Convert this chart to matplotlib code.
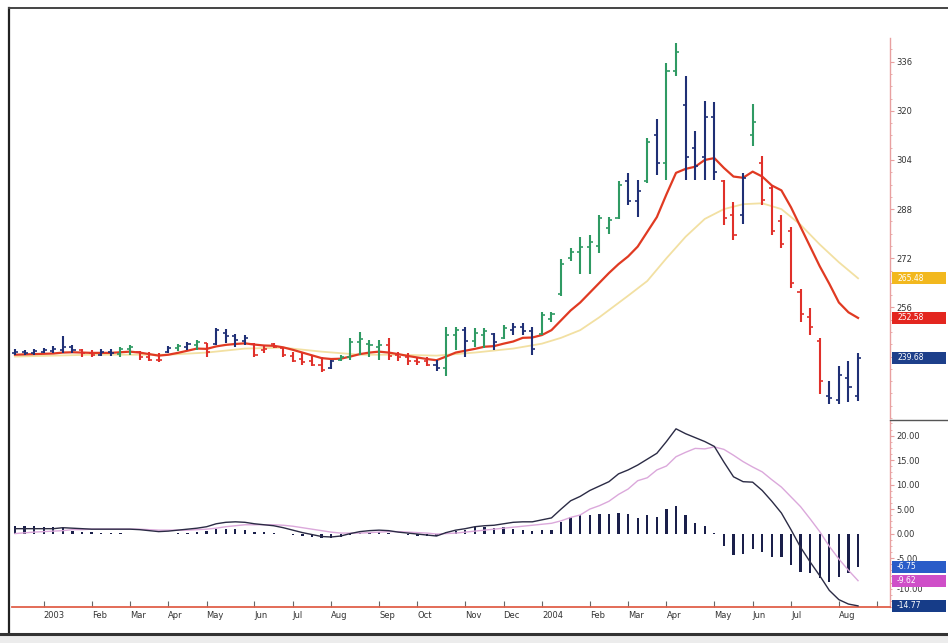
#!/usr/bin/env python3
"""
Weekly OHLC bar chart (Dec 2002 - Aug 2004) with two moving averages
and a MACD panel underneath, styled after a scanned trading-software page.
"""

import numpy as np
import pandas as pd
import matplotlib
matplotlib.use('Agg')
import matplotlib.pyplot as plt
import matplotlib.transforms as mtransforms
from matplotlib import rcParams
from matplotlib.patches import Rectangle
from matplotlib.lines import Line2D

FIG_W, FIG_H, DPI = 9.48, 6.43, 100

rcParams.update({
    'font.family': 'DejaVu Sans',
    'font.size': 6,
    'axes.linewidth': 0.9,
})

# ── Data ──────────────────────────────────────────────────────────────
first_week = '2002-12-13'   # weekly bars, Fridays

bar_open = [
    241.0, 241.4, 241.0, 241.6, 241.8, 242.2, 243.0, 242.2, 241.0, 240.6,
    241.6, 240.8, 242.6, 241.6, 239.7, 239.0, 241.6, 242.9, 243.2, 243.8,
    244.5, 244.2, 247.7, 246.7, 245.1, 244.2, 242.2, 244.2, 242.9, 240.3,
    239.3, 238.4, 237.4, 236.2, 239.0, 240.0, 244.8, 244.0, 243.2, 243.8,
    240.6, 239.7, 238.4, 238.7, 237.4, 236.2, 247.0, 248.6, 245.1, 247.0,
    247.4, 246.1, 248.6, 249.6, 248.3, 247.4, 252.2, 260.5, 272.0, 274.0,
    275.8, 276.0, 282.0, 285.0, 297.0, 290.5, 297.0, 312.0, 303.0, 333.0,
    322.0, 308.0, 305.0, 318.0, 297.0, 286.0, 286.0, 312.0, 303.0, 295.0,
    284.0, 281.0, 261.0, 253.0, 245.0, 227.0, 226.0, 233.0, 227.0,
]
bar_high = [
    242.6, 242.2, 242.6, 242.9, 243.5, 246.7, 243.8, 242.6, 242.2, 242.6,
    242.6, 243.2, 243.8, 241.9, 241.6, 241.3, 243.5, 244.2, 244.8, 245.4,
    244.5, 249.3, 249.0, 247.4, 247.0, 244.5, 243.8, 244.5, 242.9, 241.6,
    241.3, 240.6, 239.7, 239.0, 240.6, 246.1, 248.0, 245.4, 245.4, 246.1,
    241.6, 241.3, 240.0, 239.7, 239.0, 249.6, 249.6, 249.6, 249.3, 249.3,
    247.7, 250.2, 250.9, 250.9, 249.6, 254.4, 254.4, 271.7, 275.2, 279.0,
    279.7, 286.1, 285.4, 297.3, 299.8, 297.6, 311.0, 317.4, 335.7, 342.1,
    331.2, 313.3, 323.2, 322.9, 297.6, 290.2, 299.8, 322.2, 305.3, 296.0,
    286.1, 282.2, 262.1, 255.7, 246.1, 232.0, 236.8, 238.4, 241.3,
]
bar_low = [
    240.6, 240.6, 240.6, 241.0, 241.0, 241.3, 241.3, 240.0, 240.0, 240.3,
    240.3, 240.0, 240.6, 239.0, 238.7, 238.1, 241.3, 241.9, 242.2, 242.2,
    240.0, 243.8, 244.5, 243.2, 243.8, 240.0, 241.3, 242.9, 240.0, 238.1,
    237.4, 236.8, 234.9, 235.8, 238.4, 239.0, 240.6, 240.0, 239.0, 239.0,
    238.4, 237.4, 237.4, 236.8, 235.2, 233.6, 242.2, 240.0, 243.2, 242.9,
    242.2, 245.8, 247.0, 247.0, 240.6, 247.0, 251.2, 259.8, 271.0, 266.9,
    266.9, 273.6, 280.0, 284.8, 289.3, 285.4, 296.6, 299.2, 297.6, 331.2,
    297.6, 297.6, 297.6, 297.6, 282.9, 278.1, 283.2, 308.5, 289.3, 279.7,
    275.2, 262.4, 251.2, 247.0, 227.8, 224.6, 224.6, 225.3, 225.6,
]
bar_close = [
    241.6, 241.0, 241.8, 242.2, 242.6, 243.0, 242.2, 241.0, 240.6, 241.6,
    241.0, 242.6, 243.0, 239.7, 239.0, 238.8, 242.9, 243.5, 244.0, 244.8,
    241.6, 248.6, 246.7, 245.4, 246.1, 240.6, 242.6, 243.2, 240.6, 238.7,
    238.1, 237.4, 235.5, 238.4, 240.0, 244.8, 245.8, 243.8, 243.8, 240.3,
    239.7, 238.4, 238.1, 237.4, 236.2, 247.0, 248.6, 245.1, 247.7, 248.3,
    244.8, 249.3, 249.6, 248.3, 242.6, 253.4, 253.8, 270.0, 274.2, 275.8,
    277.4, 285.0, 284.5, 296.0, 290.5, 294.0, 310.0, 303.0, 333.0, 339.0,
    305.0, 302.0, 318.0, 300.0, 285.0, 279.5, 298.0, 316.5, 291.0, 281.0,
    276.5, 264.0, 254.0, 249.5, 232.0, 226.5, 234.0, 230.0, 239.68,
]
# impulse state of each bar: u = up (green), d = down (red), n = neutral (blue)
impulse = list(
    'nnnnnnnddnnuudddnunud'
    'nnnnddddddddnuuuuuddddd'
    'nuunuununnnuuuuuuuuunnunuu'
    'nnnnddnudddddddnnnn'
)

# fast moving average (red), one value per bar
ma_fast = [
    240.6, 240.7, 240.8, 240.9, 241.0, 241.3, 241.4, 241.3, 241.2, 241.2,
    241.2, 241.4, 241.6, 241.3, 240.8, 240.3, 240.6, 241.2, 241.9, 242.6,
    242.5, 243.3, 243.8, 244.1, 244.3, 243.9, 243.6, 243.5, 243.0, 242.2,
    241.3, 240.4, 239.5, 239.2, 239.3, 240.0, 240.8, 241.3, 241.6, 241.3,
    240.8, 240.2, 239.7, 239.2, 238.8, 240.0, 241.3, 241.9, 242.5, 243.2,
    243.4, 244.2, 244.9, 246.1, 246.2, 247.0, 248.6, 251.8, 255.0, 257.6,
    260.8, 264.0, 267.2, 270.1, 272.6, 275.8, 280.6, 285.4, 292.8, 299.8,
    301.1, 301.8, 304.0, 304.6, 301.4, 298.6, 298.2, 300.2, 298.6, 295.7,
    294.1, 288.6, 282.2, 275.8, 269.4, 263.7, 257.6, 254.4, 252.58,
]
# slow moving average (yellow), read at selected bars
ma_slow_idx = [0, 4, 8, 12, 16, 20, 24, 28, 32, 36, 40, 44, 48, 52, 55,
               57, 59, 61, 64, 66, 68, 70, 72, 74, 76, 78, 80, 82, 84, 86, 88]
ma_slow = [240.0, 240.3, 240.6, 240.6, 240.6, 241.3, 242.6, 242.9, 241.6,
           240.6, 240.6, 240.3, 241.3, 242.6, 244.2, 246.1, 248.6, 252.8,
           259.8, 264.6, 272.0, 279.0, 284.8, 288.0, 289.6, 289.9, 288.0,
           282.9, 276.5, 270.7, 265.48]

macd_line = [
    1.0, 1.0, 1.0, 1.0, 1.0, 1.2, 1.1, 1.0, 0.9, 0.9,
    0.9, 0.9, 0.9, 0.8, 0.6, 0.4, 0.5, 0.7, 0.9, 1.1,
    1.4, 2.0, 2.3, 2.4, 2.3, 2.0, 1.8, 1.6, 1.2, 0.7,
    0.2, -0.2, -0.6, -0.7, -0.5, 0.0, 0.4, 0.6, 0.7, 0.6,
    0.3, 0.1, -0.1, -0.3, -0.5, 0.2, 0.7, 1.0, 1.4, 1.6,
    1.7, 2.0, 2.3, 2.4, 2.4, 2.8, 3.2, 5.0, 6.7, 7.6,
    8.8, 9.7, 10.6, 12.2, 13.0, 14.0, 15.2, 16.4, 18.8, 21.4,
    20.4, 19.6, 18.8, 17.8, 14.6, 11.6, 10.6, 10.5, 8.8, 6.6,
    4.2, 0.8, -2.8, -5.8, -8.6, -11.6, -13.5, -14.4, -14.77,
]
macd_signal = [
    0.0, 0.15, 0.3, 0.4, 0.5, 0.6, 0.8, 0.8, 0.9, 0.9,
    0.9, 0.9, 0.9, 0.9, 0.8, 0.7, 0.7, 0.7, 0.7, 0.8,
    0.9, 1.1, 1.4, 1.6, 1.8, 1.8, 1.8, 1.8, 1.7, 1.5,
    1.2, 0.9, 0.6, 0.3, 0.1, 0.1, 0.1, 0.2, 0.3, 0.4,
    0.4, 0.3, 0.2, 0.1, -0.1, 0.0, 0.1, 0.3, 0.5, 0.7,
    0.9, 1.1, 1.3, 1.5, 1.7, 1.9, 2.1, 2.6, 3.3, 3.8,
    5.0, 5.7, 6.6, 8.0, 9.1, 10.8, 11.4, 13.0, 13.8, 15.7,
    16.6, 17.4, 17.3, 17.7, 17.2, 16.0, 14.7, 13.6, 12.6, 11.0,
    9.5, 7.5, 5.5, 3.0, 0.4, -2.6, -5.2, -7.5, -9.62,
]
macd_hist = [
    1.5, 1.6, 1.5, 1.4, 1.3, 1.2, 0.6, 0.4, 0.3, 0.1,
    0.1, 0.05, 0.0, -0.1, -0.1, -0.1, 0.0, 0.1, 0.2, 0.4,
    0.6, 0.9, 1.0, 0.9, 0.7, 0.4, 0.3, 0.2, -0.1, -0.3,
    -0.5, -0.7, -0.9, -1.0, -0.7, -0.2, 0.2, 0.4, 0.4, 0.2,
    -0.1, -0.3, -0.4, -0.5, -0.5, 0.3, 0.6, 0.8, 1.4, 1.4,
    1.2, 1.3, 1.0, 0.7, 0.6, 0.7, 0.8, 2.4, 3.4, 3.8,
    3.8, 4.0, 4.0, 4.2, 3.9, 3.2, 3.8, 3.4, 5.0, 5.7,
    3.8, 2.2, 1.5, 0.1, -2.6, -4.4, -4.1, -3.1, -3.8, -4.7,
    -4.7, -6.5, -7.8, -8.1, -9.1, -9.8, -8.8, -8.1, -6.75,
]

price_ticks = [256, 272, 288, 304, 320, 336]
macd_ticks = [-10, -5, 0, 5, 10, 15, 20]

# ── Colours ───────────────────────────────────────────────────────────
impulse_colors = {'u': '#2f9a63', 'd': '#e0302a', 'n': '#1f2f75'}
AXIS_RED = '#e8a0a0'
TEXT = '#333333'

# ── Layout (pixels of the 948 x 643 target) ───────────────────────────
def fig_rect(left, top, right, bottom):
    W, H = FIG_W * DPI, FIG_H * DPI
    return [left / W, 1 - bottom / H, (right - left) / W, (bottom - top) / H]

PX_PER_BAR = 9.58
x_first = 15.0            # pixel centre of bar 0
ax_left, ax_right = 12, 890
xmin = (ax_left - x_first) / PX_PER_BAR
xmax = (ax_right - x_first) / PX_PER_BAR

fig = plt.figure(figsize=(FIG_W, FIG_H), dpi=DPI)
fig.patch.set_facecolor('white')
ax_p = fig.add_axes(fig_rect(ax_left, 38, ax_right, 418))
ax_m = fig.add_axes(fig_rect(ax_left, 420, ax_right, 607))

n = len(bar_close)
idx = np.arange(n)

# ── Price panel ───────────────────────────────────────────────────────
ax_p.plot(ma_slow_idx, ma_slow, color='#f2e0a2', lw=1.3, zorder=2)
ax_p.plot(idx, ma_fast, color='#e03a22', lw=1.6, zorder=3)

cols = [impulse_colors[c] for c in impulse]
ax_p.vlines(idx, bar_low, bar_high, colors=cols, lw=1.5, zorder=4)
ax_p.hlines(bar_open, idx - 0.32, idx, colors=cols, lw=1.2, zorder=4)
ax_p.hlines(bar_close, idx, idx + 0.32, colors=cols, lw=1.2, zorder=4)

ax_p.set_xlim(xmin, xmax)
ax_p.set_ylim(222.1, 343.7)

# ── MACD panel ────────────────────────────────────────────────────────
ax_m.bar(idx, macd_hist, width=0.24, color='#1a1f4a', zorder=2)
ax_m.plot(idx, macd_signal, color='#dba8db', lw=1.0, zorder=3)
ax_m.plot(idx, macd_line, color='#2b2b45', lw=1.0, zorder=4, clip_on=False)
ax_m.set_xlim(xmin, xmax)
ax_m.set_ylim(-14.6, 23.2)

# ── Axes styling ──────────────────────────────────────────────────────
for ax, ticks, fmt, minor in ((ax_p, price_ticks, '{:.0f}', 4),
                              (ax_m, macd_ticks, '{:.2f}', 1.25)):
    for s in ('top', 'left', 'bottom'):
        ax.spines[s].set_visible(False)
    ax.spines['right'].set_color(AXIS_RED)
    ax.spines['right'].set_linewidth(1.0)
    ax.patch.set_alpha(0)
    ax.yaxis.tick_right()
    ax.set_yticks(ticks)
    ax.set_yticklabels([fmt.format(t) for t in ticks])
    ax.set_yticks(np.arange(ax.get_ylim()[0] // minor * minor,
                            ax.get_ylim()[1], minor), minor=True)
    ax.tick_params(axis='y', which='major', length=3, width=0.8,
                   color=AXIS_RED, labelcolor=TEXT, labelsize=6, pad=1.5)
    ax.tick_params(axis='y', which='minor', length=1.5, width=0.6,
                   color=AXIS_RED)

# the lowest MACD label peeks out just under the signal flag
low_lbl = ax_m.get_yticklabels()[0]
low_lbl.set_transform(low_lbl.get_transform() +
                      mtransforms.ScaledTranslation(0, -4 / 72, fig.dpi_scale_trans))

ax_p.set_xticks([])
ax_m.spines['bottom'].set_visible(True)
ax_m.spines['bottom'].set_color('#e0604a')
ax_m.spines['bottom'].set_linewidth(1.3)

# month ticks at the first bar of each month
all_dates = pd.date_range(first_week, periods=int(xmax) + 1, freq='7D')
month_idx, month_lbl = [], []
for i in range(1, len(all_dates)):
    if all_dates[i].month != all_dates[i - 1].month:
        month_idx.append(i)
        if i >= n:
            month_lbl.append('')
        elif all_dates[i].month == 1:
            month_lbl.append(str(all_dates[i].year))
        else:
            month_lbl.append(all_dates[i].strftime('%b'))
ax_m.set_xticks(month_idx)
ax_m.set_xticklabels(month_lbl)
ax_m.tick_params(axis='x', direction='in', length=4, width=0.8,
                 color='#666666', labelcolor=TEXT, labelsize=6, pad=3)
for lbl in ax_m.get_xticklabels():
    lbl.set_horizontalalignment('left')

# ── Value flags on the right axis ─────────────────────────────────────
def flag(ax, y, txt, color, h_px=12):
    ppu = ax.bbox.height / (ax.get_ylim()[1] - ax.get_ylim()[0])
    h = h_px / ppu
    trans = mtransforms.blended_transform_factory(ax.transAxes, ax.transData)
    ax.add_patch(Rectangle((1.002, y - h / 2), 0.062, h, transform=trans,
                           facecolor=color, edgecolor='none',
                           clip_on=False, zorder=10))
    ax.text(1.008, y, txt, transform=trans, color='white', fontsize=5.5,
            va='center', ha='left', clip_on=False, zorder=11)

flag(ax_p, ma_slow[-1], f'{ma_slow[-1]:.2f}', '#f2b81e')
flag(ax_p, ma_fast[-1], f'{ma_fast[-1]:.2f}', '#e3261f')
flag(ax_p, bar_close[-1], f'{bar_close[-1]:.2f}', '#1d3f8a')
flag(ax_m, macd_hist[-1], f'{macd_hist[-1]:.2f}', '#2a5cc8')
flag(ax_m, macd_signal[-1], f'{macd_signal[-1]:.2f}', '#cf4fc8')
flag(ax_m, macd_line[-1], f'{macd_line[-1]:.2f}', '#163c88')

# ── Page frame and panel separator ───────────────────────────────────
W, H = FIG_W * DPI, FIG_H * DPI
fig.add_artist(Line2D([890 / W, 947 / W], [1 - 420 / H] * 2,
                      color='#555555', lw=1.0))
fig.add_artist(Line2D([9 / W, 9 / W], [1 - 8 / H, 1 - 634 / H],
                      color='#222222', lw=1.6))
fig.add_artist(Line2D([9 / W, 1], [1 - 8 / H] * 2, color='#444444', lw=1.4))
fig.add_artist(Line2D([0, 1], [1 - 634 / H] * 2, color='#333333', lw=2.2))
fig.add_artist(Rectangle((0, 0), 1, 1 - 636 / H, transform=fig.transFigure,
                         facecolor='#ececec', edgecolor='none'))

fig.savefig('out.png', dpi=DPI)
plt.close(fig)
print('Saved: out.png')
